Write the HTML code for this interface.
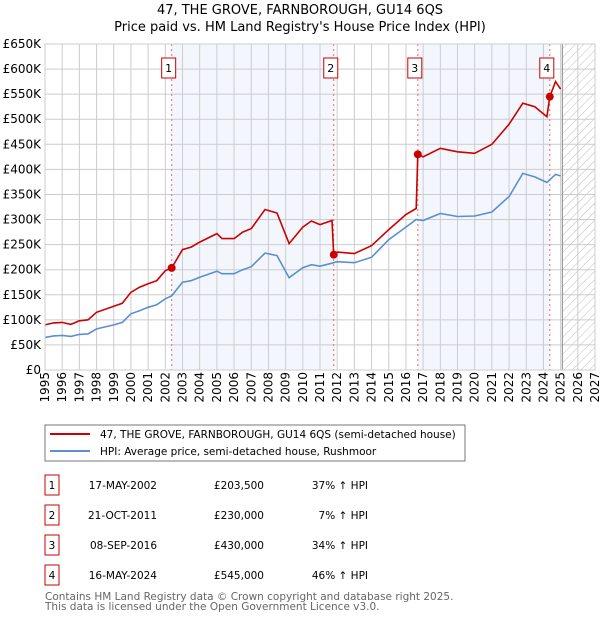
<!DOCTYPE html>
<html><head><meta charset="utf-8"><style>
body{margin:0;background:#fff;font-family:"DejaVu Sans","Liberation Sans",sans-serif;}
svg text{font-family:"DejaVu Sans","Liberation Sans",sans-serif;}
</style></head><body>
<svg id="c" width="600" height="620" xmlns="http://www.w3.org/2000/svg">
<defs><pattern id="hatch" width="6" height="6" patternUnits="userSpaceOnUse" patternTransform="rotate(45)"><line x1="0" y1="0" x2="0" y2="6" stroke="#bbb" stroke-width="1"/></pattern></defs>
<text x="300" y="14" text-anchor="middle" font-size="13">47, THE GROVE, FARNBOROUGH, GU14 6QS</text>
<text x="300" y="31" text-anchor="middle" font-size="13">Price paid vs. HM Land Registry's House Price Index (HPI)</text>
<g id="plot"></g>
<rect x="45" y="425" width="420" height="36" fill="#fff" stroke="#777"/>
<line x1="50" y1="434" x2="90" y2="434" stroke="#cc0000" stroke-width="2"/>
<text x="100" y="438" font-size="10.5">47, THE GROVE, FARNBOROUGH, GU14 6QS (semi-detached house)</text>
<line x1="50" y1="451" x2="90" y2="451" stroke="#5b8fd1" stroke-width="2"/>
<text x="100" y="455" font-size="10.5">HPI: Average price, semi-detached house, Rushmoor</text>
<g id="table" font-size="10.5"></g>
<text x="45" y="600" font-size="10.5" fill="#666">Contains HM Land Registry data © Crown copyright and database right 2025.</text>
<text x="45" y="610" font-size="10.5" fill="#666">This data is licensed under the Open Government Licence v3.0.</text>
</svg>
<script>
const yTicks=[0,50,100,150,200,250,300,350,400,450,500,550,600,650];
const yTickLabels=["£0","£50K","£100K","£150K","£200K","£250K","£300K","£350K","£400K","£450K","£500K","£550K","£600K","£650K"];
const years=[1995,1996,1997,1998,1999,2000,2001,2002,2003,2004,2005,2006,2007,2008,2009,2010,2011,2012,2013,2014,2015,2016,2017,2018,2019,2020,2021,2022,2023,2024,2025,2026,2027];
const hpiT=[1995,1995.5,1996,1996.5,1997,1997.5,1998,1999,1999.5,2000,2000.5,2001,2001.5,2002,2002.37,2003,2003.5,2004,2005,2005.3,2006,2006.5,2007,2007.8,2008.5,2009.2,2010,2010.5,2011,2011.7,2012,2013,2014,2015,2016,2016.6,2017,2018,2019,2020,2021,2022,2022.8,2023.5,2024.2,2024.7,2025];
const hpiV=[65,68,69,67,71,72,82,90,95,112,118,125,130,142,148,175,178,185,197,192,192,200,206,233,228,184,204,210,207,213,216,214,225,260,285,300,298,312,306,307,315,346,392,385,374,390,387];
const priceT=[1995,1995.5,1996,1996.5,1997,1997.5,1998,1999,1999.5,2000,2000.5,2001,2001.5,2002,2002.37,2003,2003.5,2004,2005,2005.3,2006,2006.5,2007,2007.8,2008.5,2009.2,2010,2010.5,2011,2011.7,2011.8,2012,2013,2014,2015,2016,2016.6,2016.69,2017,2018,2019,2020,2021,2022,2022.8,2023.5,2024.2,2024.37,2024.7,2025];
const priceV=[90,94,95,91,98,100,115,127,133,155,165,172,178,198,203.5,240,245,255,272,262,262,275,282,320,313,252,285,297,290,298,230,235,232,248,280,310,322,430,425,442,435,432,450,490,532,525,505,545,575,560];
const saleT=[2002.37,2011.8,2016.69,2024.37];
const saleV=[203.5,230,430,545];
const saleLabels=["1","2","3","4"];
const saleDates=["17-MAY-2002","21-OCT-2011","08-SEP-2016","16-MAY-2024"];
const salePrices=["£203,500","£230,000","£430,000","£545,000"];
const saleHpi=["37% ↑ HPI","7% ↑ HPI","34% ↑ HPI","46% ↑ HPI"];
const NS="http://www.w3.org/2000/svg";
const X0=45,X1=595,Y0=370,Y1=44;
const xs=t=>X0+(t-1995)/(2027-1995)*(X1-X0);
const ys=v=>Y0-v/650*(Y0-Y1);
const plot=document.getElementById('plot');
function mk(tag,attrs,parent){const e=document.createElementNS(NS,tag);for(const k in attrs)e.setAttribute(k,attrs[k]);(parent||plot).appendChild(e);return e;}
[[saleT[0],saleT[1]],[saleT[2],saleT[3]]].forEach(b=>{
 const r=mk('rect',{x:xs(b[0]),y:Y1,width:xs(b[1])-xs(b[0]),height:Y0-Y1,fill:'#eef3fc',opacity:0.7});
 
 
});
const h=mk('rect',{x:xs(2025.1),y:Y1,width:X1-xs(2025.1),height:Y0-Y1,fill:'url(#hatch)'});


years.forEach(y=>{
 const l=mk('line',{x1:xs(y),x2:xs(y),y1:Y1,y2:Y0,stroke:'#ccc','stroke-width':1});
 
 
 const t=mk('text',{x:0,y:0,'font-size':12,transform:`translate(${xs(y)+4},372) rotate(-90)`,'text-anchor':'end'});
 t.textContent=y;
 
 
});
yTicks.forEach((v,i)=>{
 const l=mk('line',{x1:X0,x2:X1,y1:ys(v),y2:ys(v),stroke:'#ccc','stroke-width':1});
 
 
 const t=mk('text',{x:41,y:ys(v)+4,'font-size':12,'text-anchor':'end'});
 t.textContent=yTickLabels[i];
 
 
});
const nl=mk('line',{x1:xs(2025.1),x2:xs(2025.1),y1:Y1,y2:Y0,stroke:'#888'});


saleT.forEach((t,i)=>{
 const l=mk('line',{x1:xs(t),x2:xs(t),y1:Y1,y2:Y0,stroke:'#e66','stroke-width':1,'stroke-dasharray':'2,3'});
 
 
 const r=mk('rect',{x:xs(t)-10,y:58,width:14,height:20,fill:'#fff',stroke:'#cc0000'});
 
 
 const tx=mk('text',{x:xs(t)-3,y:72,'font-size':11,'text-anchor':'middle'});
 tx.textContent=saleLabels[i];
 
 
});
function path(T,V,color,name){
 const d=T.map((t,i)=>(i?'L':'M')+xs(t).toFixed(1)+','+ys(V[i]).toFixed(1)).join('');
 const p=mk('path',{d:d,fill:'none',stroke:color,'stroke-width':1.6});
 
 
}
path(hpiT,hpiV,'#5b8fd1','hpi-line');
path(priceT,priceV,'#cc0000','price-paid-line');
saleT.forEach((t,i)=>{
 const c=mk('circle',{cx:xs(t),cy:ys(saleV[i]),r:4,fill:'#cc0000'});
 
 
});
mk('rect',{x:X0,y:Y1,width:X1-X0,height:Y0-Y1,fill:'none',stroke:'#ccc'});
const tb=document.getElementById('table');
saleLabels.forEach((s,i)=>{
 const cy=483+i*30;
 const r=mk('rect',{x:45,y:cy-8,width:14,height:20,fill:'#fff',stroke:'#cc0000'},tb);
 
 
 const cells=[[52,s,'middle'],[157,saleDates[i],'end'],[264,salePrices[i],'end'],[368,saleHpi[i],'end']];
 cells.forEach(c=>{
  const t=mk('text',{x:c[0],y:cy+6,'text-anchor':c[2]},tb);
  t.textContent=c[1];
  
  
 });
});
</script>
</body></html>
